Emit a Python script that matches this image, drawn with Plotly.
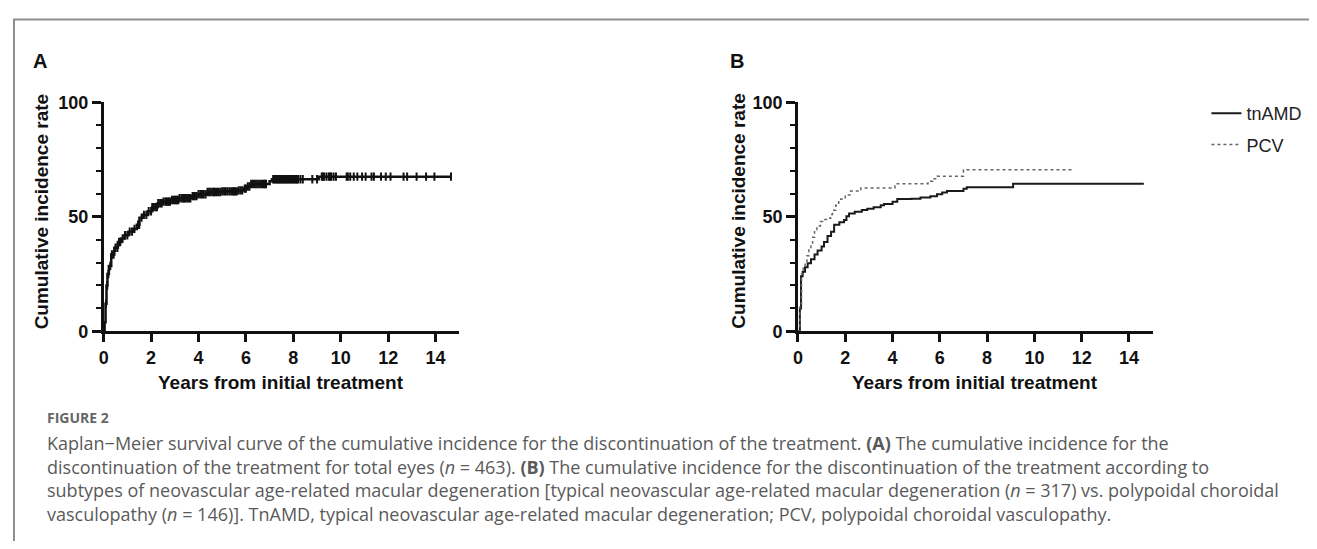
import numpy as np
import plotly.graph_objects as go

PAGE_W, PAGE_H = 1317, 549
OFF = 8  # default page body margin in the browser
W, H = PAGE_W - 2 * OFF, PAGE_H - 2 * OFF

# ---------------- data ----------------
# Panel A: total eyes, Kaplan-Meier cumulative incidence (%)
a_time = [0, 0.04, 0.08, 0.12, 0.16, 0.22, 0.32, 0.45, 0.6, 0.75, 0.88, 1.05, 1.23, 1.4, 1.51,
          1.65, 1.86, 2.05, 2.28, 2.5, 2.84, 3.2, 3.68, 4.0, 4.38, 5.0, 5.64, 5.9, 6.05, 6.2,
          6.9, 7.0, 7.1, 9.07, 14.67]
a_value = [0, 4, 12, 20, 25, 28.5, 33.5, 36.5, 39, 40.5, 41.9, 43.5, 44.7, 46.5, 49.6,
           50.8, 52.4, 54.2, 55.9, 56.6, 57.3, 58.1, 59.0, 59.8, 60.8, 61.1, 61.5, 62.3, 63.2, 64.3,
           64.3, 65.5, 66.4, 67.5, 67.5]
a_censor = [0.1, 0.15, 0.2, 0.28, 0.35, 0.42, 0.5, 0.58, 0.65, 0.7, 0.8, 0.9, 1.0, 1.1, 1.2, 1.3,
            1.45, 1.5, 1.6, 1.7, 1.8, 1.9, 2.0, 2.05, 2.12, 2.2, 2.25, 2.3, 2.38, 2.45, 2.52, 2.6,
            2.65, 2.7, 2.75, 2.8, 2.88, 2.95, 3.0, 3.05, 3.1, 3.15, 3.2, 3.28, 3.35, 3.4, 3.45,
            3.52, 3.6, 3.66, 3.75, 3.8, 3.85, 3.92, 4.0, 4.08, 4.15, 4.22, 4.3, 4.38, 4.45, 4.52,
            4.6, 4.65, 4.7, 4.78, 4.85, 4.92, 5.0, 5.08, 5.15, 5.22, 5.3, 5.38, 5.45, 5.5, 5.55,
            5.62, 5.7, 5.78, 5.85, 5.95, 6.0, 6.08, 6.15, 6.22, 6.3, 6.38, 6.45, 6.52, 6.6, 6.68,
            6.75, 6.8, 6.85, 7.15, 7.2, 7.25, 7.3, 7.35, 7.4, 7.45, 7.5, 7.55, 7.6, 7.65, 7.7,
            7.75, 7.8, 7.85, 7.9, 7.95, 8.0, 8.05, 8.1, 8.15, 8.2, 8.3, 8.4, 8.8, 9.0,
            9.2, 9.25, 9.3, 9.4, 9.5, 9.55, 9.6, 9.7, 9.8, 10.25, 10.3, 10.4, 10.55, 10.7, 10.9,
            11.05, 11.3, 11.4, 11.7, 11.9, 12.1, 12.65, 12.8, 13.2, 13.6, 13.95, 14.65]

# Panel B: by subtype
tn_time = [0, 0.08, 0.13, 0.2, 0.3, 0.41, 0.55, 0.7, 0.83, 1.0, 1.1, 1.25, 1.4, 1.53, 1.75,
           1.95, 2.05, 2.16, 2.4, 2.7, 2.93, 3.2, 3.5, 3.64, 4.0, 4.2, 4.8, 5.18, 5.6, 5.88,
           6.1, 6.3, 7.0, 7.14, 9.1, 14.63]
tn_value = [0, 10, 24, 26, 28, 29.7, 31.5, 33.5, 35.3, 37, 39, 41.6, 43.5, 46.5, 47.6,
            48.6, 50.2, 51.4, 52.2, 53, 53.5, 54.2, 55, 55.6, 56.5, 57.7, 57.9, 58.4, 59, 59.8,
            60.6, 61.2, 62.2, 62.9, 64.4, 64.4]
pcv_time = [0, 0.08, 0.15, 0.22, 0.3, 0.38, 0.46, 0.55, 0.62, 0.7, 0.8, 0.95, 1.1, 1.25, 1.38,
            1.46, 1.6, 1.72, 1.81, 2.0, 2.23, 2.66, 4.1, 5.5, 5.7, 5.88, 7.0, 11.6]
pcv_value = [0, 12, 25, 27.5, 30, 33, 36, 38.5, 41, 43.5, 46, 47.9, 48.8, 49.3, 51,
             52.8, 55, 56.5, 57.7, 59.5, 61.2, 62.6, 64.4, 65.5, 66.6, 67.7, 70.5, 70.5]

series_names = ["tnAMD", "PCV"]
x_ticks = [0, 2, 4, 6, 8, 10, 12, 14]
y_ticks = [0, 50, 100]

# ---------------- figure ----------------
def px_x(p):
    return (p - OFF) / W

def px_y(p):
    return 1 - (p - OFF) / H

fig = go.Figure()

fig.add_trace(go.Scatter(x=a_time, y=a_value, mode="lines", line=dict(shape="hv", color="#111", width=2.5),
                         xaxis="x", yaxis="y", showlegend=False, hoverinfo="skip"))
idx = np.searchsorted(np.array(a_time), np.array(a_censor), side="right") - 1
a_censor_y = [a_value[i] for i in idx]
fig.add_trace(go.Scatter(x=a_censor, y=a_censor_y, mode="markers",
                         marker=dict(symbol="line-ns", size=6, line=dict(width=2, color="#111")),
                         xaxis="x", yaxis="y", showlegend=False, hoverinfo="skip"))

fig.add_trace(go.Scatter(x=tn_time, y=tn_value, mode="lines", name=series_names[0],
                         line=dict(shape="hv", color="#1a1a1a", width=2),
                         xaxis="x2", yaxis="y2", legendgroup="g1"))
fig.add_trace(go.Scatter(x=pcv_time, y=pcv_value, mode="lines", name=series_names[1],
                         line=dict(shape="hv", color="#666", width=1.5, dash="dot"),
                         xaxis="x2", yaxis="y2", legendgroup="g2"))

ydom = [px_y(333.5), px_y(95.5)]
tickfont = dict(family="Liberation Sans, Arial", size=18, color="#111", weight="bold")

def xaxis_cfg(dom, anchor):
    return dict(domain=dom, anchor=anchor, range=[0, 15], tickvals=x_ticks, showline=True,
                linecolor="#111", linewidth=2.5, ticks="outside", ticklen=8, tickwidth=2.5,
                tickcolor="#111", showgrid=False, zeroline=False, tickfont=tickfont)

def yaxis_cfg(anchor):
    return dict(domain=ydom, anchor=anchor, range=[0, 100], tickvals=y_ticks, showline=True,
                linecolor="#111", linewidth=2.5, ticks="outside", ticklen=9, tickwidth=2.5,
                tickcolor="#111", showgrid=False, zeroline=False, tickfont=tickfont,
                minor=dict(dtick=10, ticks="outside", ticklen=5, tickwidth=2, tickcolor="#111",
                           showgrid=False))

annotations = []
title_font = dict(family="Liberation Sans, Arial", size=19, color="#111", weight="bold")
for (letter, lx, ax_left, ax_right, ytx) in [("A", 35, 99, 456, 37), ("B", 735, 796, 1152, 736)]:
    annotations.append(dict(text=letter, x=px_x(lx), y=px_y(53), xref="paper", yref="paper",
                            showarrow=False, xanchor="center", yanchor="middle",
                            font=dict(family="Liberation Sans, Arial", size=20, color="#111", weight="bold")))
    annotations.append(dict(text="Cumulative incidence rate", x=px_x(ytx), y=px_y(209), xref="paper",
                            yref="paper", showarrow=False, textangle=-90, xanchor="center",
                            yanchor="middle", font=title_font))
    annotations.append(dict(text="Years from initial treatment", x=px_x((ax_left + ax_right) / 2),
                            y=px_y(387), xref="paper", yref="paper", showarrow=False,
                            xanchor="center", yanchor="middle", font=title_font))

cap_font = dict(family="Open Sans", size=18, color="#5a5a5a")
annotations.append(dict(text="FIGURE 2", x=px_x(40), y=px_y(423), xref="paper", yref="paper",
                        showarrow=False, xanchor="left", yanchor="middle",
                        font=dict(family="Open Sans", size=14, color="#666", weight="bold")))
cap_lines = [
    "Kaplan−Meier survival curve of the cumulative incidence for the discontinuation of the treatment. <b>(A)</b> The cumulative incidence for the",
    "discontinuation of the treatment for total eyes (<i>n</i> = 463). <b>(B)</b> The cumulative incidence for the discontinuation of the treatment according to",
    "subtypes of neovascular age-related macular degeneration [typical neovascular age-related macular degeneration (<i>n</i> = 317) vs. polypoidal choroidal",
    "vasculopathy (<i>n</i> = 146)]. TnAMD, typical neovascular age-related macular degeneration; PCV, polypoidal choroidal vasculopathy.",
]
for i, line in enumerate(cap_lines):
    annotations.append(dict(text=line, x=px_x(40), y=px_y(449.5 + 24.5 * i), xref="paper", yref="paper",
                            showarrow=False, xanchor="left", yanchor="middle", font=cap_font))

shapes = [dict(type="rect", xref="paper", yref="paper", x0=px_x(9), x1=1.05, y0=-0.05, y1=px_y(9.5),
               line=dict(color="#8f8f8f", width=2), fillcolor="rgba(0,0,0,0)", layer="below")]

fig.update_layout(
    width=W, height=H, margin=dict(l=0, r=0, t=0, b=0),
    paper_bgcolor="white", plot_bgcolor="white",
    xaxis=xaxis_cfg([px_x(99), px_x(456)], "y"),
    yaxis=yaxis_cfg("x"),
    xaxis2=xaxis_cfg([px_x(796), px_x(1152)], "y2"),
    yaxis2=yaxis_cfg("x2"),
    annotations=annotations,
    shapes=shapes,
    legend=dict(x=px_x(1206), y=px_y(88), xanchor="left", yanchor="top", bgcolor="rgba(0,0,0,0)",
                font=dict(family="Liberation Sans, Arial", size=18, color="#222"),
                tracegroupgap=5, traceorder="grouped"),
    showlegend=True,
)

fig.write_html("out.html")
